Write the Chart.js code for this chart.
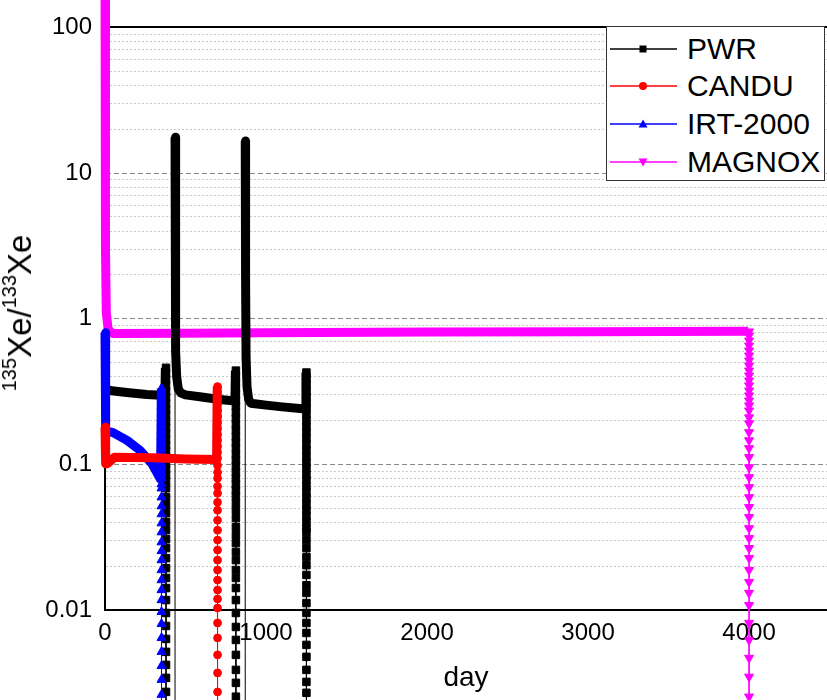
<!DOCTYPE html>
<html>
<head>
<meta charset="utf-8">
<script src="https://cdn.jsdelivr.net/npm/chart.js@4.4.1/dist/chart.umd.min.js"></script>
<style>
  html, body { margin: 0; padding: 0; background: #fff; }
  #wrap { position: relative; width: 827px; height: 700px; overflow: hidden; font-family: "Liberation Sans", Arial, sans-serif; }
  #chart { position: absolute; left: 0; top: 0; }
  #ytitle { position: absolute; left: 21.6px; top: 312.5px; transform: translate(-50%, -50%) rotate(-90deg);
            font-size: 33px; line-height: 40px; white-space: nowrap; color: #000; }
  #ytitle span { font-size: 20px; position: relative; top: -15px; }
  #legend { position: absolute; left: 606px; top: 26px; width: 217px; height: 153px; border: 1px solid #333; background: #fff; }
  .row { position: absolute; left: 3px; height: 38px; display: flex; align-items: center; font-size: 30px; color: #000; white-space: nowrap; }
  .row svg { margin-right: 10px; }
</style>
</head>
<body>
<div id="wrap">
  <canvas id="chart" width="827" height="700"></canvas>
  <div id="ytitle"><span>135</span>Xe/<span>133</span>Xe</div>
  <div id="legend"></div>
</div>
<script>
// x axis (days) and y axis (ratio) ticks
const dayMax = 4484;
const dayTicks = [0, 1000, 2000, 3000, 4000];
const ratioMajors = [0.01, 0.1, 1, 10, 100];
const minorSteps = [2, 3, 4, 5, 6, 7, 8, 9];

const seriesNames = ['PWR', 'CANDU', 'IRT-2000', 'MAGNOX'];
const seriesColors = ['#000000', '#ff0000', '#0000ff', '#ff00ff'];

// value before a reactor restart (135Xe practically gone)
const restartFloor = 1e-6;

// PWR: three cycles [day, ratio], then the fall after each shutdown
const pwrRun1 = [[0, 0.33], [40, 0.32], [150, 0.31], [260, 0.302], [372, 0.297], [375, 0.46]];
const pwrRun2 = [[435, 17.6], [437, 2.0], [440, 0.6], [445, 0.40], [455, 0.33], [470, 0.31], [500, 0.30], [600, 0.29], [700, 0.28], [807, 0.272], [810, 0.44]];
const pwrRun3 = [[871, 16.6], [873, 2.0], [876, 0.55], [882, 0.34], [892, 0.28], [905, 0.263], [1000, 0.255], [1100, 0.248], [1244, 0.24], [1248, 0.427]];
const pwrStops = [379, 813, 1251];
const pwrDecay1 = [0.46, 0.42, 0.382, 0.348, 0.316, 0.288, 0.262, 0.238, 0.217, 0.197, 0.179, 0.163, 0.148, 0.135, 0.123, 0.112, 0.102, 0.0924, 0.084, 0.0765,
  0.0685, 0.0594, 0.0524, 0.0462, 0.0401, 0.0353, 0.0306, 0.0266, 0.0227, 0.0194, 0.0166, 0.01415, 0.0117, 0.00954, 0.00777, 0.00633, 0.00516, 0.0042, 0.00342, 0.00274, 0.0022];
const pwrDecay2 = [0.44, 0.401, 0.365, 0.332, 0.302, 0.274, 0.25, 0.227, 0.207, 0.188, 0.171, 0.155, 0.141, 0.129, 0.117, 0.1065, 0.0969, 0.088, 0.08, 0.073, 0.0664, 0.0604,
  0.0541, 0.0484, 0.0427, 0.037, 0.0326, 0.0288, 0.025, 0.022, 0.0188, 0.0166, 0.01415, 0.0117, 0.00954, 0.00765, 0.00623, 0.00492, 0.00388, 0.00316, 0.00254, 0.00203];
const pwrDecay3 = [0.427, 0.388, 0.353, 0.321, 0.292, 0.266, 0.242, 0.22, 0.2, 0.182, 0.166, 0.151, 0.137, 0.125, 0.113, 0.103, 0.094, 0.085, 0.078, 0.0707, 0.0643, 0.0585, 0.0532, 0.0484, 0.044, 0.0401, 0.0364,
  0.0342, 0.0302, 0.0266, 0.0231, 0.0203, 0.0174, 0.0148, 0.0131, 0.01116, 0.00954, 0.00815, 0.00696, 0.00576, 0.00477, 0.00388, 0.00321, 0.0027, 0.0022];

// CANDU
const canduRun = [[0, 0.18], [4, 0.101], [15, 0.101], [60, 0.112], [300, 0.111], [500, 0.109], [693, 0.108], [697, 0.342]];
const canduStop = 699;
const canduDecay = [0.342, 0.311, 0.283, 0.258, 0.234, 0.213, 0.194, 0.176, 0.16, 0.146, 0.133, 0.121, 0.11, 0.0984, 0.0881, 0.0802, 0.0707, 0.0633, 0.0549, 0.0484,
  0.0413, 0.0353, 0.0302, 0.0258, 0.022, 0.0188, 0.01605, 0.01371, 0.0119, 0.01032, 0.00815, 0.00643, 0.00492, 0.0037, 0.00274, 0.00207];

// IRT-2000
const irtRun = [[0, 0.8], [4, 0.17], [50, 0.165], [137, 0.146], [217, 0.125], [292, 0.101], [345, 0.079], [350, 0.332]];
const irtStop = 351;
const irtDecay = [0.332, 0.302, 0.274, 0.25, 0.227, 0.207, 0.188, 0.171, 0.155, 0.141, 0.129, 0.117, 0.1065, 0.0969, 0.088, 0.08, 0.073, 0.0685, 0.0594, 0.0516,
  0.0455, 0.0394, 0.0342, 0.0292, 0.0254, 0.022, 0.0188, 0.01605, 0.01371, 0.0117, 0.00969, 0.00802, 0.00643, 0.00516, 0.00413, 0.00332, 0.00262, 0.00207];

// MAGNOX
const magnoxRun = [[0, 300], [3, 3.0], [8, 1.1], [20, 0.84], [50, 0.79], [500, 0.795], [1000, 0.8], [2000, 0.81], [3000, 0.815], [3995, 0.82]];
const magnoxStop = 4000;
const magnoxDecay = [0.815, 0.765, 0.707, 0.653, 0.604, 0.558, 0.516, 0.477, 0.44, 0.407, 0.376, 0.348, 0.321, 0.297, 0.274, 0.2535, 0.234, 0.21, 0.191, 0.166, 0.146, 0.129,
  0.112, 0.0954, 0.0815, 0.0696, 0.0594, 0.0508, 0.0434, 0.0364, 0.0311, 0.0266, 0.0227, 0.0188, 0.01555, 0.0131, 0.0108, 0.00815, 0.00623, 0.00469, 0.00348, 0.00254, 0.00188];

const run = pts => pts.map(([x, y]) => ({x, y, kind: 'run'}));
const fall = (day, vals) => vals.map(y => ({x: day, y, kind: 'mark'}));
const restart = day => [{x: day, y: restartFloor, kind: 'gap'}];

const pwrData = [
  ...run(pwrRun1), ...fall(pwrStops[0], pwrDecay1),
  ...restart(pwrRun2[0][0]), ...run(pwrRun2), ...fall(pwrStops[1], pwrDecay2),
  ...restart(pwrRun3[0][0]), ...run(pwrRun3), ...fall(pwrStops[2], pwrDecay3)
];
const canduData = [...run(canduRun), ...fall(canduStop, canduDecay)];
const irtData = [...run(irtRun), ...fall(irtStop, irtDecay)];
const magnoxData = [...run(magnoxRun), ...fall(magnoxStop, magnoxDecay)];

const yTicks = [];
ratioMajors.forEach((m, i) => {
  yTicks.push(m);
  if (i < ratioMajors.length - 1) minorSteps.forEach(s => yTicks.push(+(s * m).toPrecision(3)));
});

const font = '"Liberation Sans", Arial, sans-serif';

function makeSet(i, data, style, radius, rotation, order) {
  return {
    label: seriesNames[i],
    data: data,
    order: order,
    borderColor: seriesColors[i],
    backgroundColor: seriesColors[i],
    borderWidth: 1,
    borderJoinStyle: 'round',
    pointStyle: style,
    pointRotation: rotation,
    pointRadius: c => (c.raw && c.raw.kind === 'mark') ? radius : 0,
    pointBorderWidth: 1,
    pointHoverRadius: 0,
    clip: false,
    segment: {
      borderWidth: c => (data[c.p0DataIndex].kind === 'run' && data[c.p1DataIndex].kind === 'run') ? 9 : 1
    }
  };
}

// draw the marks that fall below the axis as well
const noCull = {
  id: 'noCull',
  beforeDatasetsDraw(chart) {
    chart.$area = chart.chartArea;
    chart.chartArea = {left: 0, top: 0, right: chart.width, bottom: chart.height, width: chart.width, height: chart.height};
  },
  afterDatasetsDraw(chart) {
    chart.chartArea = chart.$area;
  }
};

const isMajor = v => ratioMajors.includes(v);
const isFrame = v => v === 100 || v === 0.01;

new Chart(document.getElementById('chart').getContext('2d'), {
  type: 'line',
  data: {
    datasets: [
      makeSet(0, pwrData, 'rect', 5.3, 0, 2),
      makeSet(1, canduData, 'circle', 3.9, 0, 0),
      makeSet(2, irtData, 'triangle', 5.2, 0, 1),
      makeSet(3, magnoxData, 'triangle', 5.2, 180, 3)
    ]
  },
  options: {
    responsive: false,
    animation: false,
    events: [],
    layout: { padding: { top: 26, right: 0, bottom: 0, left: 0 }, autoPadding: false },
    plugins: { legend: { display: false }, tooltip: { enabled: false } },
    scales: {
      x: {
        type: 'linear',
        min: 0,
        max: dayMax,
        afterBuildTicks: s => { s.ticks = dayTicks.map(value => ({value})); },
        afterFit: s => { s.height = 90; },
        grid: { display: false, drawTicks: false },
        border: { color: '#000', width: 2 },
        ticks: { autoSkip: false, maxRotation: 0, padding: 9, color: '#000', font: { family: font, size: 24 }, callback: v => String(v) },
        title: { display: true, text: 'day', color: '#000', font: { family: font, size: 28 }, padding: { top: 0, bottom: 5 } }
      },
      y: {
        type: 'logarithmic',
        min: 0.01,
        max: 100,
        afterBuildTicks: s => { s.ticks = yTicks.map(value => ({value})); },
        afterFit: s => { s.width = 105; },
        grid: {
          drawTicks: false,
          color: c => !c.tick ? '#000' : isFrame(c.tick.value) ? '#000' : isMajor(c.tick.value) ? '#8a8a8a' : '#c8c8c8',
          lineWidth: c => (c.tick && isFrame(c.tick.value)) ? 2 : 1
        },
        border: {
          color: '#000',
          width: 2,
          dash: c => (!c.tick || isFrame(c.tick.value)) ? [] : isMajor(c.tick.value) ? [5, 3] : [2, 2]
        },
        ticks: { autoSkip: false, padding: 13, color: '#000', font: { family: font, size: 24 }, callback: v => isMajor(v) ? String(v) : '' }
      }
    }
  },
  plugins: [noCull]
});

// legend box with line + marker symbols
const symbols = [
  '<rect x="29.5" y="15.5" width="7" height="7" fill="#000"/>',
  '<circle cx="33" cy="19" r="4" fill="#ff0000"/>',
  '<polygon points="33,14.5 37.5,22.5 28.5,22.5" fill="#0000ff"/>',
  '<polygon points="28.5,15.5 37.5,15.5 33,23.5" fill="#ff00ff"/>'
];
const legend = document.getElementById('legend');
seriesNames.forEach((name, i) => {
  const row = document.createElement('div');
  row.className = 'row';
  row.style.top = (2.5 + i * 37.7) + 'px';
  row.innerHTML = '<svg width="67" height="38"><line x1="0" y1="19" x2="67" y2="19" stroke="' + seriesColors[i] +
    '" stroke-width="1.4"/>' + symbols[i] + '</svg>';
  const label = document.createElement('span');
  label.textContent = name;
  row.appendChild(label);
  legend.appendChild(row);
});
</script>
</body>
</html>
